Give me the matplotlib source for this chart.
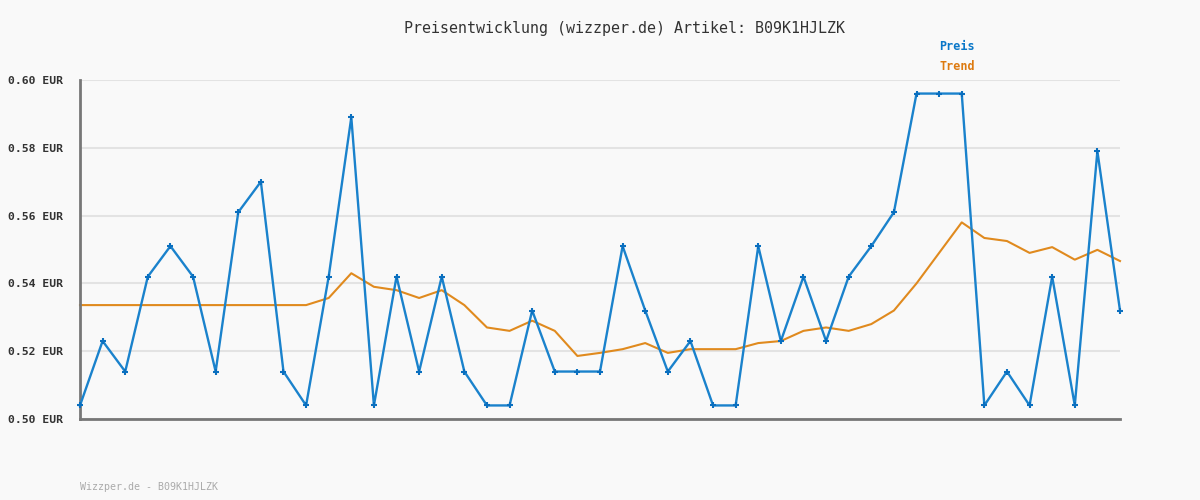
import matplotlib
matplotlib.use("Agg")
import matplotlib.pyplot as plt

# price history (EUR)
preis = [0.504, 0.523, 0.514, 0.542, 0.551, 0.542, 0.514, 0.561, 0.570, 0.514,
         0.504, 0.542, 0.589, 0.504, 0.542, 0.514, 0.542, 0.514, 0.504, 0.504,
         0.532, 0.514, 0.514, 0.514, 0.551, 0.532, 0.514, 0.523, 0.504, 0.504,
         0.551, 0.523, 0.542, 0.523, 0.542, 0.551, 0.561, 0.596, 0.596, 0.596,
         0.504, 0.514, 0.504, 0.542, 0.504, 0.579, 0.532]

trend = [0.5336, 0.5336, 0.5336, 0.5336, 0.5336, 0.5336, 0.5336, 0.5336, 0.5336, 0.5336,
         0.5336, 0.5357, 0.543, 0.539, 0.538, 0.5357, 0.538, 0.5336, 0.527, 0.526,
         0.529, 0.526, 0.5186, 0.5195, 0.5206, 0.5224, 0.5195, 0.5206, 0.5206, 0.5206,
         0.5224, 0.523, 0.526, 0.527, 0.526, 0.528, 0.532, 0.540, 0.549, 0.558,
         0.5534, 0.5525, 0.549, 0.5507, 0.547, 0.5499, 0.5466]

yticks = [0.50, 0.52, 0.54, 0.56, 0.58, 0.60]
artikel = "B09K1HJLZK"

bg = "#f9f9f9"
mono = "DejaVu Sans Mono"

fig = plt.figure(figsize=(12, 5), dpi=100, facecolor=bg)
ax = fig.add_axes([80 / 1200, 81 / 500, 1040 / 1200, 339 / 500])
ax.set_facecolor(bg)

x = list(range(len(preis)))
ax.plot(x, preis, color="#1a82cc", lw=1.7, marker="+", ms=5, mew=1.5,
        mec="#0a6fbf", zorder=3, clip_on=False)
ax.plot(x, trend, color="#e08a1e", lw=1.5, zorder=2, clip_on=False)

ax.set_xlim(0, len(preis) - 1)
ax.set_ylim(0.50, 0.60)
ax.set_yticks(yticks)
ax.set_yticklabels([f"{v:.2f} EUR" for v in yticks], fontfamily=mono,
                   fontsize=8.2, fontweight="bold", color="#333333")
ax.set_xticks([])
ax.tick_params(axis="y", length=0, pad=12)
ax.grid(axis="y", color="#e3e3e3", lw=1.5)
ax.set_axisbelow(True)

for s in ["top", "right"]:
    ax.spines[s].set_visible(False)
ax.spines["left"].set_color("#777777")
ax.spines["bottom"].set_color("#777777")
ax.spines["left"].set_linewidth(2)
ax.spines["bottom"].set_linewidth(2)

fig.text(0.52, 1 - 28 / 500, f"Preisentwicklung (wizzper.de) Artikel: {artikel}",
         ha="center", va="center", fontfamily=mono, fontsize=10.8, color="#333333")
fig.text(957 / 1200, 1 - 47 / 500, "Preis", ha="center", va="center",
         fontfamily=mono, fontsize=8.5, fontweight="bold", color="#0a77c8")
fig.text(957 / 1200, 1 - 67 / 500, "Trend", ha="center", va="center",
         fontfamily=mono, fontsize=8.5, fontweight="bold", color="#dd7a10")
fig.text(80 / 1200, 1 - 487 / 500, f"Wizzper.de - {artikel}", ha="left", va="center",
         fontfamily=mono, fontsize=7.2, color="#aaaaaa")

fig.savefig("out.png", dpi=100, facecolor=bg)
